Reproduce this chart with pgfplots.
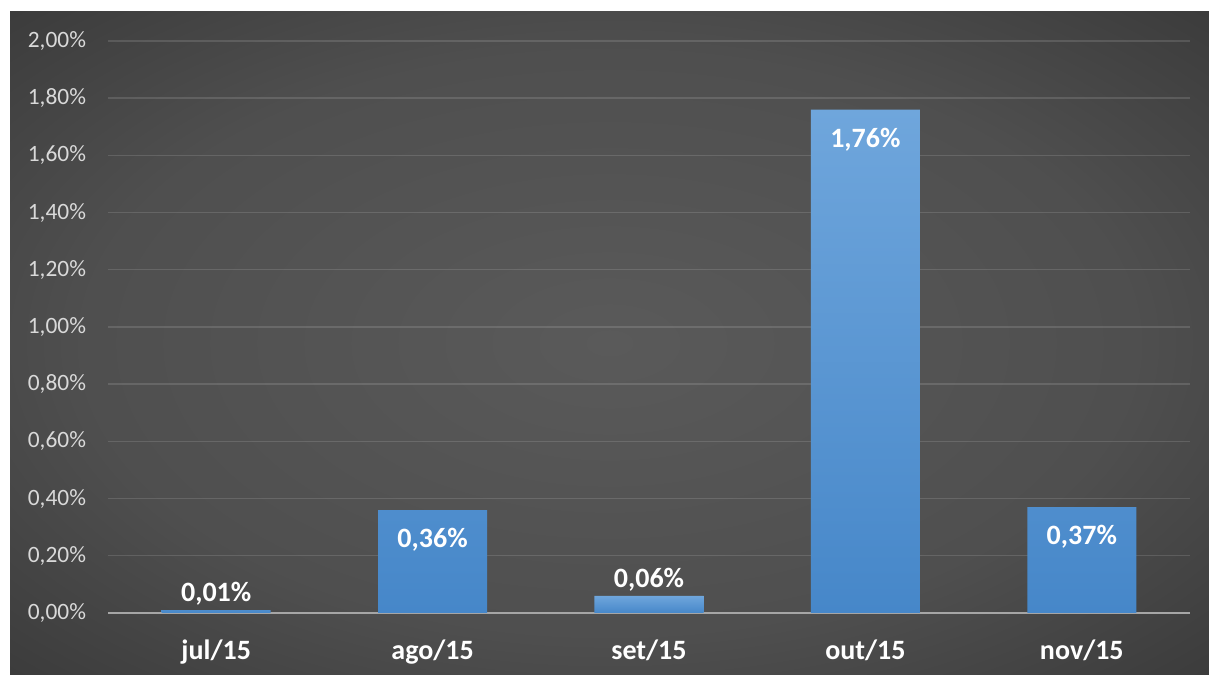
\documentclass[border=0pt]{standalone}
\usepackage{pgfplots}
\pgfplotsset{compat=1.18}
\usepackage{fontspec}
\setmainfont{Carlito}

\definecolor{bgin}{HTML}{5A5A5A}
\definecolor{bgout}{HTML}{272727}
\pgfdeclareradialshading{bgshade}{\pgfpointorigin}{color(0bp)=(bgin); color(22bp)=(bgin!78!bgout); color(50bp)=(bgout)}
\definecolor{barTop}{HTML}{6FA6DC}
\definecolor{barBot}{HTML}{4687C9}
\definecolor{axisgray}{HTML}{A6A6A6}
\definecolor{ticktext}{HTML}{D9D9D9}

\newcommand{\pct}[1]{\pgfmathprintnumber[fixed,fixed zerofill,precision=2,use comma]{#1}\%}

\begin{document}
\begin{tikzpicture}
\fill[bgout] (-40bp,-40bp) rectangle (650bp,380bp);
\shade[shading=bgshade] (5bp,0bp) rectangle (604.5bp,332bp);
\fill[white] (-40bp,332bp) rectangle (650bp,380bp);
\fill[white] (-40bp,-40bp) rectangle (5bp,380bp);
\begin{axis}[
  at={(54bp,31bp)}, anchor=south west,
  width=541bp, height=286bp, scale only axis,
  xmin=-0.5, xmax=4.5,
  ymin=0, ymax=2,
  xtick={0,1,2,3,4},
  xticklabels={jul/15,ago/15,set/15,out/15,nov/15},
  ytick={0,0.2,0.4,0.6,0.8,1.0,1.2,1.4,1.6,1.8,2.0},
  yticklabel={\pct{\tick}},
  /pgf/number format/assume math mode=true,
  axis x line*=bottom, axis y line*=left,
  y axis line style={draw=none},
  x axis line style={draw=axisgray, line width=1bp, -},
  major tick length=0pt,
  ymajorgrids,
  grid style={white, opacity=0.13, line width=0.7bp},
  yticklabel style={text=ticktext, font=\fontsize{11.7bp}{13bp}\selectfont, xshift=-7.5bp},
  xticklabel style={text=white, font=\fontsize{14bp}{16bp}\selectfont\bfseries, yshift=-10bp},
  every node near coord/.append style={text=white, font=\fontsize{14bp}{16bp}\selectfont\bfseries, anchor=center},
  nodes near coords={\pct{\pgfplotspointmeta}},
]
\addplot[ybar, bar width=54.5bp, bar shift=0pt, draw=none, top color=barTop, bottom color=barBot,
  every node near coord/.append style={yshift=-15bp}]
  coordinates {(1,0.36) (3,1.76) (4,0.37)};
\addplot[ybar, bar width=54.5bp, bar shift=0pt, draw=none, top color=barTop, bottom color=barBot,
  every node near coord/.append style={yshift=8bp}]
  coordinates {(0,0.01) (2,0.06)};
\end{axis}
\pgfresetboundingbox
\useasboundingbox (0,0) rectangle (604.5bp,337.5bp);
\end{tikzpicture}
\end{document}
